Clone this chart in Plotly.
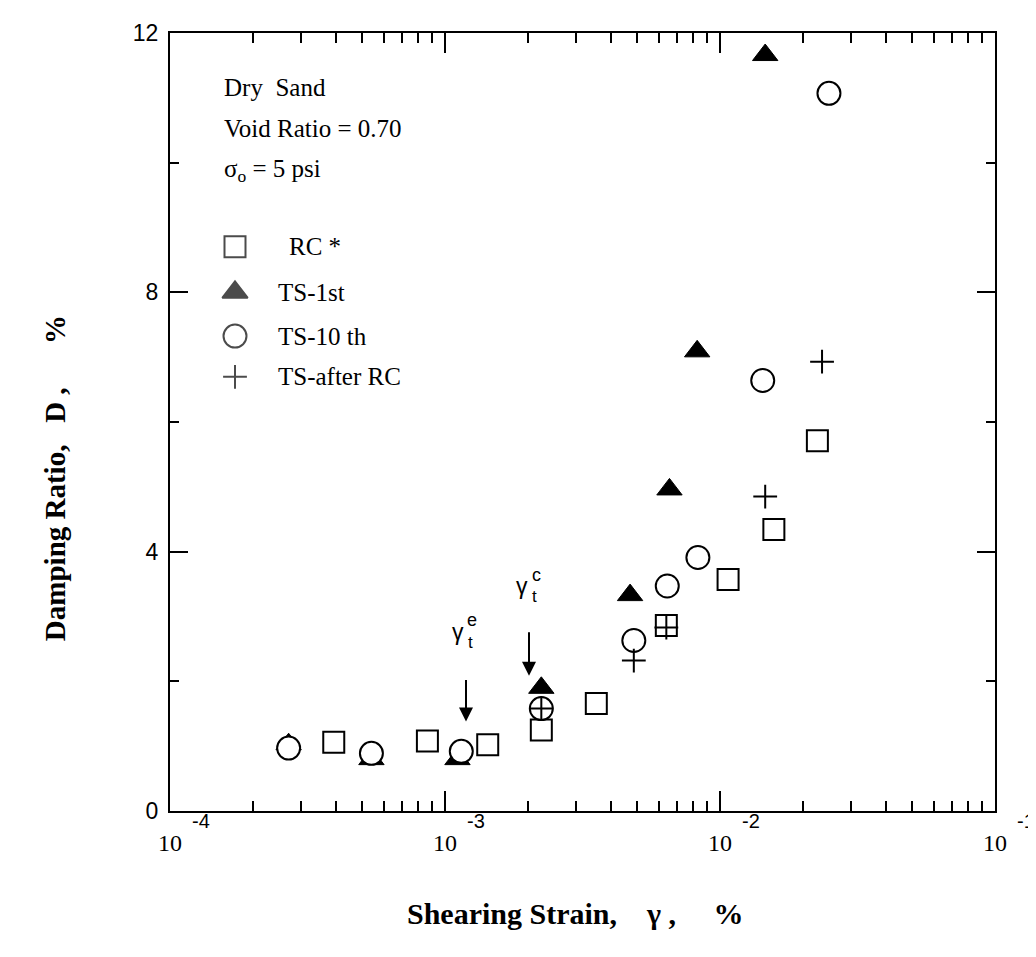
import math
import plotly.graph_objects as go

# ---------------- data ----------------
rc_strain = [3.94e-4, 8.63e-4, 1.43e-3, 2.24e-3, 3.55e-3, 6.38e-3, 1.07e-2, 1.57e-2, 2.26e-2]
rc_damping = [1.06, 1.08, 1.02, 1.25, 1.66, 2.86, 3.57, 4.34, 5.71]

ts1_strain = [2.70e-4, 5.40e-4, 1.11e-3, 2.24e-3, 4.71e-3, 6.55e-3, 8.26e-3, 1.46e-2]
ts1_damping = [1.03, 0.80, 0.80, 1.90, 3.33, 4.96, 7.09, 11.66]

ts10_strain = [2.70e-4, 5.40e-4, 1.146e-3, 2.24e-3, 4.86e-3, 6.43e-3, 8.31e-3, 1.43e-2, 2.49e-2]
ts10_damping = [0.97, 0.89, 0.92, 1.58, 2.63, 3.47, 3.91, 6.64, 11.07]

tsrc_strain = [2.24e-3, 4.86e-3, 6.38e-3, 1.46e-2, 2.35e-2]
tsrc_damping = [1.58, 2.32, 2.83, 4.85, 6.93]

legend_labels = ["RC *", "TS-1st", "TS-10 th", "TS-after RC"]
x_tick_values = [1e-4, 1e-3, 1e-2, 1e-1]
x_tick_exponents = ["-4", "-3", "-2", "-1"]
y_tick_values = [0, 4, 8, 12]
y_minor_values = [2, 6, 10]
x_minor_values = [m * 10 ** e for e in (-4, -3, -2) for m in range(2, 10)]

# ---------------- layout helpers ----------------
W, H = 1036, 957
L, R, T, B = 162, 987, 20, 803


def px(xp):
    return (xp - L) / (R - L)


def py(yp):
    return (B - yp) / (B - T)


SERIF = "Liberation Serif, Times New Roman, serif"
SANS = "Liberation Sans, Arial, sans-serif"
LW = 2
NB = "\u00a0"

fig = go.Figure()

fig.add_trace(go.Scatter(
    x=rc_strain, y=rc_damping, mode="markers", name=legend_labels[0],
    marker=dict(symbol="square", size=21, color="white", line=dict(color="black", width=LW)),
))
fig.add_trace(go.Scatter(
    x=ts1_strain, y=ts1_damping, mode="markers", name=legend_labels[1],
    marker=dict(symbol="triangle-up", size=22, color="black", line=dict(color="black", width=1)),
))
fig.add_trace(go.Scatter(
    x=ts10_strain, y=ts10_damping, mode="markers", name=legend_labels[2],
    marker=dict(symbol="circle", size=23, color="white", line=dict(color="black", width=LW)),
))
fig.add_trace(go.Scatter(
    x=tsrc_strain, y=tsrc_damping, mode="markers", name=legend_labels[3],
    marker=dict(symbol="cross-thin", size=17, color="black", line=dict(color="black", width=LW)),
))

# manual legend on an overlay axis (paper-like 0..1 coordinates)
leg_y_px = [235, 281, 325, 366]
fig.add_trace(go.Scatter(
    x=[px(227)] * 4, y=[py(v) for v in leg_y_px], mode="markers",
    xaxis="x2", yaxis="y2", showlegend=False, hoverinfo="skip",
    marker=dict(symbol=["square", "triangle-up", "circle", "cross-thin"],
                size=[21, 22, 23, 17],
                color=["white", "black", "white", "black"],
                line=dict(color="black", width=LW)),
))

annotations = []
label_x_px = [279, 268, 268, 268]
for lab, xp, yp in zip(legend_labels, label_x_px, leg_y_px):
    annotations.append(dict(text=lab, x=px(xp), y=py(yp), xref="paper", yref="paper",
                            xanchor="left", yanchor="middle", showarrow=False,
                            font=dict(family=SERIF, size=25, color="black")))

for txt, yp in [("Dry" + NB + NB + "Sand", 75), ("Void Ratio = 0.70", 116),
                ("σ<sub>o</sub> = 5 psi", 158)]:
    annotations.append(dict(text=txt, x=px(214), y=py(yp), xref="paper", yref="paper",
                            xanchor="left", yanchor="middle", showarrow=False,
                            font=dict(family=SERIF, size=25, color="black")))

# x tick labels: "10" with exponent
for v, ex in zip(x_tick_values, x_tick_exponents):
    annotations.append(dict(text="10", x=math.log10(v), y=py(835), xref="x", yref="paper",
                            xanchor="center", yanchor="middle", showarrow=False,
                            font=dict(family=SERIF, size=24, color="black")))
    annotations.append(dict(text=ex, x=math.log10(v), y=py(813), xref="x", yref="paper",
                            xshift=31, xanchor="center", yanchor="middle", showarrow=False,
                            font=dict(family=SANS, size=20, color="black")))

# threshold strain arrows
for tip_x_px, tip_y_px, tail_len in [(458, 713, 43), (521, 667, 45)]:
    annotations.append(dict(text="", x=px(tip_x_px), y=py(tip_y_px), xref="paper", yref="paper",
                            ax=0, ay=-tail_len, axref="pixel", ayref="pixel",
                            showarrow=True, arrowhead=2, arrowsize=1.4, arrowwidth=2,
                            arrowcolor="black", standoff=0, startstandoff=0))

for gx, gy, sup in [(450, 623, "e"), (514, 577, "c")]:
    annotations.append(dict(text="γ", x=px(gx), y=py(gy), xref="paper", yref="paper",
                            xanchor="center", yanchor="middle", showarrow=False,
                            font=dict(family=SANS, size=23, color="black")))
    annotations.append(dict(text="t", x=px(gx + 12), y=py(gy + 10), xref="paper", yref="paper",
                            xanchor="center", yanchor="middle", showarrow=False,
                            font=dict(family=SANS, size=17, color="black")))
    annotations.append(dict(text=sup, x=px(gx + 14), y=py(gy - 12), xref="paper", yref="paper",
                            xanchor="center", yanchor="middle", showarrow=False,
                            font=dict(family=SANS, size=18, color="black")))

# axis titles
annotations.append(dict(text="<b>Shearing Strain," + NB * 4 + "γ" + NB + "," + NB * 5 + "%</b>",
                        x=px(567), y=py(906),
                        xref="paper", yref="paper", xanchor="center", yanchor="middle",
                        showarrow=False, font=dict(family=SERIF, size=30, color="black")))
annotations.append(dict(text="<b>Damping Ratio," + NB * 3 + "D" + NB + "," + NB * 6 + "%</b>",
                        x=px(47), y=py(468),
                        xref="paper", yref="paper", xanchor="center", yanchor="middle",
                        textangle=-90, showarrow=False,
                        font=dict(family=SERIF, size=29, color="black")))

fig.update_layout(
    width=W, height=H,
    margin=dict(l=L, r=W - R, t=T, b=H - B, pad=0),
    paper_bgcolor="white", plot_bgcolor="white",
    showlegend=False,
    annotations=annotations,
    xaxis=dict(
        type="log", range=[-4, -1], showgrid=False, zeroline=False,
        showline=True, linecolor="black", linewidth=LW, mirror="ticks",
        ticks="inside", ticklen=20, tickwidth=2, tickcolor="black",
        tickvals=x_tick_values, showticklabels=False,
        minor=dict(ticks="inside", ticklen=10, tickwidth=2, tickcolor="black",
                   tickvals=x_minor_values, showgrid=False),
    ),
    yaxis=dict(
        range=[0, 12], showgrid=False, zeroline=False,
        showline=True, linecolor="black", linewidth=LW, mirror="ticks",
        ticks="inside", ticklen=18, tickwidth=2, tickcolor="black",
        tickvals=y_tick_values, ticktext=[str(v) for v in y_tick_values],
        tickfont=dict(family=SANS, size=23, color="black"), ticklabelstandoff=5,
        minor=dict(ticks="inside", ticklen=9, tickwidth=2, tickcolor="black",
                   tickvals=y_minor_values, showgrid=False),
    ),
    xaxis2=dict(overlaying="x", range=[0, 1], visible=False),
    yaxis2=dict(overlaying="y", range=[0, 1], visible=False),
)

fig.write_html("out.html")
